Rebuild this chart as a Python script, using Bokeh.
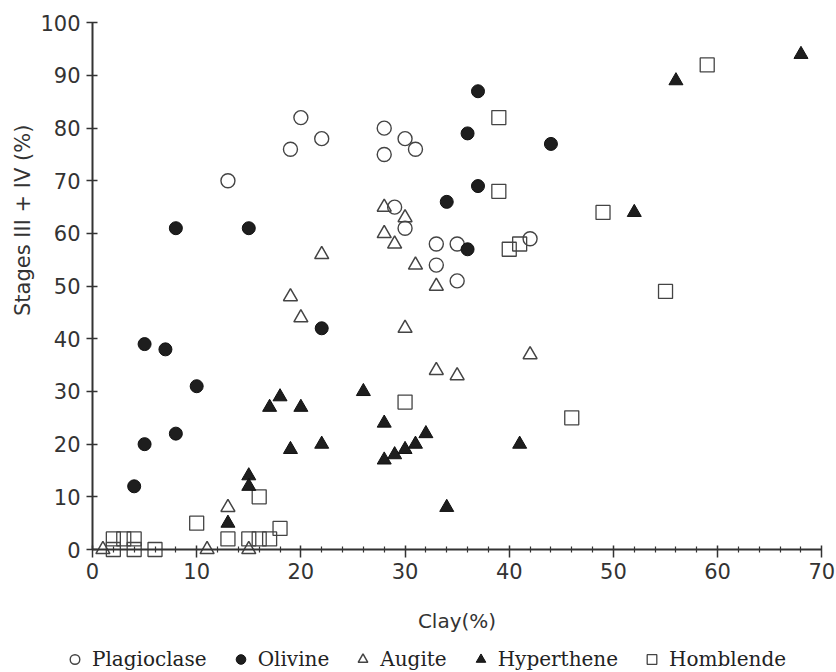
import math
from bokeh.plotting import figure
from bokeh.models import Range1d, FixedTicker, Legend, LegendItem, Label
from bokeh.embed import file_html
from bokeh.resources import INLINE
from bokeh.core.properties import value

# ---- data (Clay %, Stages III + IV %) ----
plag_x = [13, 19, 20, 22, 28, 28, 29, 30, 30, 31, 33, 33, 35, 35, 42]
plag_y = [70, 76, 82, 78, 80, 75, 65, 78, 61, 76, 58, 54, 58, 51, 59]

oliv_x = [8, 15, 37, 36, 44, 37, 34, 36, 5, 7, 10, 8, 5, 4, 22]
oliv_y = [61, 61, 87, 79, 77, 69, 66, 57, 39, 38, 31, 22, 20, 12, 42]

aug_x = [28, 28, 29, 30, 31, 22, 19, 20, 30, 33, 42, 33, 35, 13, 11, 15, 1]
aug_y = [65, 60, 58, 63, 54, 56, 48, 44, 42, 50, 37, 34, 33, 8, 0, 0, 0]

hyp_x = [68, 56, 52, 26, 18, 17, 20, 28, 19, 22, 28, 29, 30, 31, 32, 41, 34, 15, 15, 13]
hyp_y = [94, 89, 64, 30, 29, 27, 27, 24, 19, 20, 17, 18, 19, 20, 22, 20, 8, 14, 12, 5]

horn_x = [59, 39, 39, 49, 41, 40, 55, 30, 46, 10, 16, 18, 13, 15, 16, 17, 2, 3, 4, 2, 4, 6]
horn_y = [92, 82, 68, 64, 58, 57, 49, 28, 25, 5, 10, 4, 2, 2, 2, 2, 2, 2, 2, 0, 0, 0]

series_names = ["Plagioclase", "Olivine", "Augite", "Hyperthene", "Homblende"]

x_ticks = [0, 10, 20, 30, 40, 50, 60, 70]
x_minor = [v for v in range(0, 71, 2) if v % 10 != 0]
y_ticks = [0, 10, 20, 30, 40, 50, 60, 70, 80, 90, 100]

x_label = "Clay(%)"
y_label = "Stages III + IV (%)"

# ---- figure ----
p = figure(width=836, height=672, output_backend="svg", toolbar_location=None,
           x_range=Range1d(-8.83, 71.41), y_range=Range1d(-23.35, 104.23),
           min_border=0, min_border_left=0, min_border_right=0,
           min_border_top=0, min_border_bottom=0)
p.outline_line_color = None
p.xgrid.visible = False
p.ygrid.visible = False

AX = "#333333"
TICK_FONT = "DejaVu Sans"

xa = p.xaxis[0]
xa.fixed_location = 0
xa.bounds = (0, 70)
xa.ticker = FixedTicker(ticks=x_ticks, minor_ticks=x_minor)
xa.axis_line_color = AX
xa.axis_line_width = 2
xa.major_tick_line_color = AX
xa.major_tick_line_width = 1.5
xa.major_tick_in = 4
xa.major_tick_out = 8
xa.minor_tick_line_color = AX
xa.minor_tick_line_width = 1.2
xa.minor_tick_in = 3
xa.minor_tick_out = 3
xa.major_label_text_font = TICK_FONT
xa.major_label_text_font_size = "21px"
xa.major_label_text_color = AX
xa.major_label_standoff = 5
xa.axis_label = x_label
xa.axis_label_text_font = TICK_FONT
xa.axis_label_text_font_style = "normal"
xa.axis_label_text_font_size = "20px"
xa.axis_label_text_color = AX
xa.axis_label_standoff = 27

ya = p.yaxis[0]
ya.fixed_location = 0
ya.bounds = (0, 100)
ya.ticker = FixedTicker(ticks=y_ticks)
ya.axis_line_color = AX
ya.axis_line_width = 2
ya.major_tick_line_color = AX
ya.major_tick_line_width = 1.5
ya.major_tick_in = 5
ya.major_tick_out = 6
ya.minor_tick_line_color = None
ya.major_label_text_font = TICK_FONT
ya.major_label_text_font_size = "21px"
ya.major_label_text_color = AX
ya.major_label_standoff = 6

p.add_layout(Label(x=-6.7, y=62.5, text=y_label, angle=math.pi / 2,
                   text_align="center", text_baseline="middle",
                   text_font=TICK_FONT, text_font_size="21px",
                   text_color=AX))

OPEN = "#444444"
DARK = "#1e1e1e"

r_plag = p.scatter(plag_x, plag_y, marker="circle", size=14, fill_color=None,
                   line_color=OPEN, line_width=1.4)
r_aug = p.scatter(aug_x, aug_y, marker="triangle", size=14, fill_color=None,
                  line_color=OPEN, line_width=1.5)
r_horn = p.scatter(horn_x, horn_y, marker="square", size=14, fill_color=None,
                   line_color=OPEN, line_width=1.3)
r_oliv = p.scatter(oliv_x, oliv_y, marker="circle", size=13, fill_color=DARK,
                   line_color="#111111", line_width=1)
r_hyp = p.scatter(hyp_x, hyp_y, marker="triangle", size=14, fill_color=DARK,
                  line_color="#111111", line_width=1)

renderers = [r_plag, r_oliv, r_aug, r_hyp, r_horn]
legend = Legend(
    items=[LegendItem(label=value(n), renderers=[r]) for n, r in zip(series_names, renderers)],
    orientation="horizontal", location=(61, 1),
    glyph_width=27, glyph_height=24, label_standoff=4, spacing=20,
    padding=0, margin=0, border_line_color=None, background_fill_alpha=0,
    label_text_font="DejaVu Serif", label_text_font_size="20px",
    label_text_color="#222222")
p.add_layout(legend)

open("out.html", "w").write(file_html(p, INLINE))
